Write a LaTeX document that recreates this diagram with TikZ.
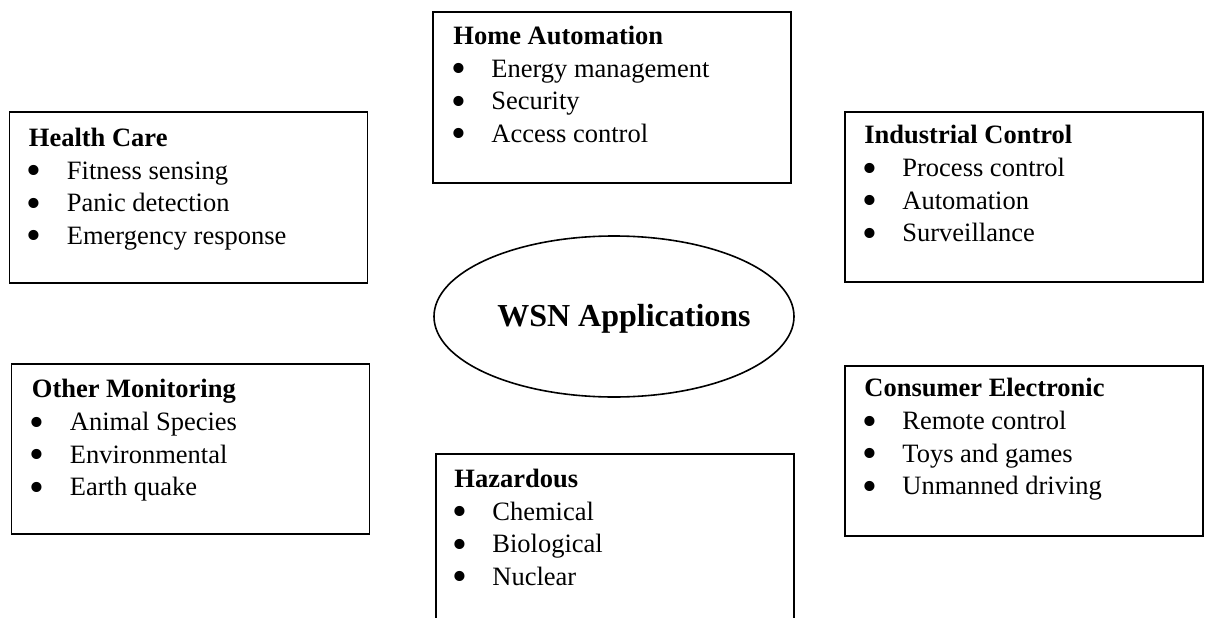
\documentclass[tikz,border=0pt]{standalone}
\usepackage{fontspec}
\setmainfont{Liberation Serif}
\usetikzlibrary{shapes.geometric,calc}
\newcommand{\bigbul}{\hspace*{-2pt}\raisebox{-5.6pt}{\scalebox{1.6}{\textbullet}}}
\newcommand{\appbox}[4]{%
  \begin{tabular}[t]{@{}p{38pt}@{}l@{}}
  \multicolumn{2}{@{}l@{}}{\textbf{#1}}\\
  \bigbul & #2\\
  \bigbul & #3\\
  \bigbul & #4
  \end{tabular}}
\begin{document}
\begin{tikzpicture}[x=1pt,y=-1pt,
  frame/.style={draw=black,line width=1.6pt,rectangle,inner sep=0pt,minimum width=358pt,minimum height=170.5pt},
  boxtext/.style={anchor=base west,inner sep=0pt,font=\fontsize{26.5}{32.6}\selectfont},
  hub/.style={draw=black,line width=1.6pt,ellipse,inner sep=0pt,minimum width=360pt,minimum height=161pt}]
\useasboundingbox (0,0) rectangle (1207,618);
\clip (0,0) rectangle (1207,618);
\fill[white] (0,0) rectangle (1207,618);
% boxes
\node[frame] (hc) at (188.5,197.5) {};
\node[frame] (ha) at (612,97.5) {};
\node[frame] (ic) at (1024,197) {};
\node[frame] (om) at (190.5,449) {};
\node[frame] (hz) at (615,539.5) {};
\node[frame] (ce) at (1024,451) {};
% texts
\node[boxtext] (hct) at ($(hc.north west)+(20,35)$) {\appbox{Health Care}{Fitness sensing}{Panic detection}{Emergency response}};
\node[boxtext] (hat) at ($(ha.north west)+(21,33)$) {\appbox{Home Automation}{Energy management}{Security}{Access control}};
\node[boxtext] (ict) at ($(ic.north west)+(20,33)$) {\appbox{Industrial Control}{Process control}{Automation}{Surveillance}};
\node[boxtext] (omt) at ($(om.north west)+(21,35)$) {\appbox{Other Monitoring}{Animal Species}{Environmental}{Earth quake}};
\node[boxtext] (hzt) at ($(hz.north west)+(19,34)$) {\appbox{Hazardous}{Chemical}{Biological}{Nuclear}};
\node[boxtext] (cet) at ($(ce.north west)+(20,32)$) {\appbox{Consumer Electronic}{Remote control}{Toys and games}{Unmanned driving}};
% hub
\node[hub] (wsn) at (614,316.5) {};
\node[anchor=base,inner sep=0pt,font=\fontsize{32}{38}\selectfont\bfseries] (wsnlabel) at (624,326) {WSN Applications};
\end{tikzpicture}
\end{document}
